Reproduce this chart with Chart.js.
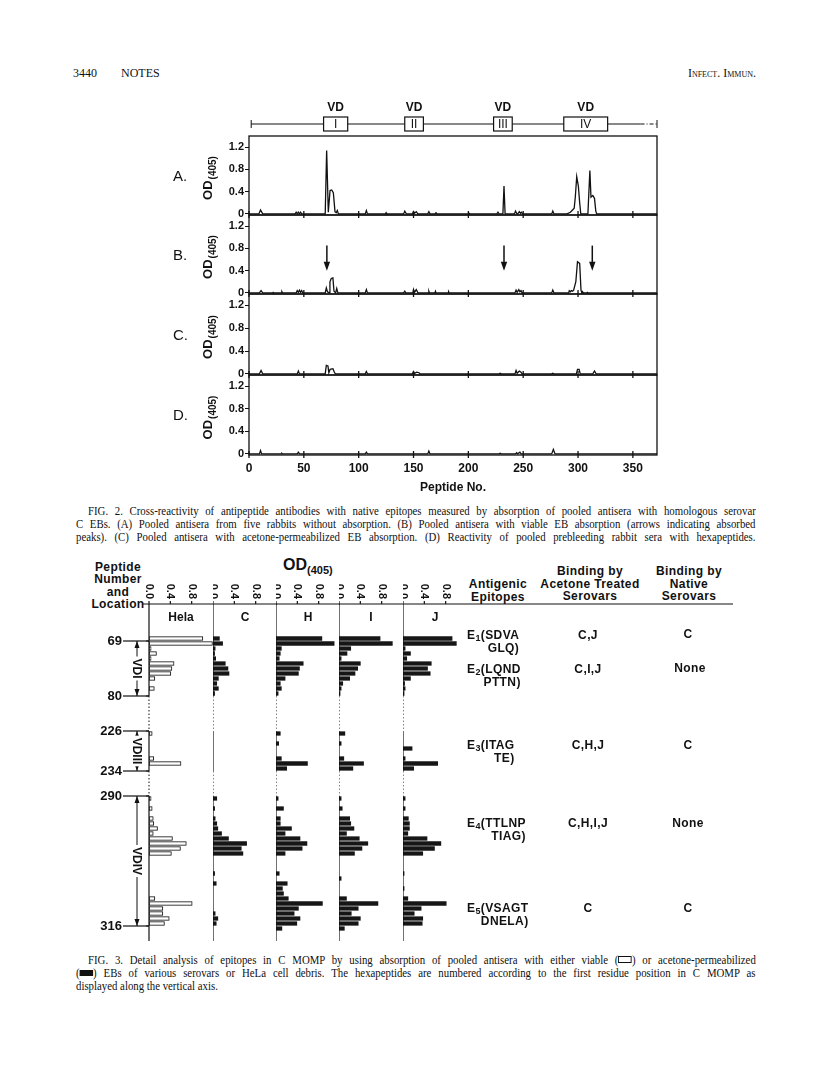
<!DOCTYPE html>
<html>
<head>
<meta charset="utf-8">
<title>Fig. 2 and Fig. 3</title>
<script src="https://cdn.jsdelivr.net/npm/chart.js@4.4.0/dist/chart.umd.min.js"></script>
<style>
  html, body { margin: 0; padding: 0; background: #fff; }
  body { width: 816px; height: 1082px; position: relative; overflow: hidden; color: #111;
         font-family: "Liberation Sans", Arial, sans-serif; }
  canvas { position: absolute; }
  .t { position: absolute; white-space: nowrap; line-height: 14px; }
  .hdr { font-family: "Liberation Serif", serif; font-size: 12px; }
  .cap { position: absolute; font-family: "Liberation Serif", serif; font-size: 12px; line-height: 13px;
         white-space: nowrap; text-align: justify; text-align-last: justify;
         transform: scaleX(0.9); transform-origin: 0 0; }
  .b { font-weight: bold; font-size: 12px; letter-spacing: 0.4px; line-height: 12.7px; }
  .c { text-align: center; width: 160px; }
  .b sub { font-size: 9px; vertical-align: -2px; line-height: 0; }
  .ob { display: inline-block; width: 13px; height: 5px; border: 1px solid #111; vertical-align: 1px; }
  .fb { display: inline-block; width: 15px; height: 6px; background: #111; vertical-align: 1px; }
</style>
</head>
<body>

<div class="t hdr" style="left:73px;top:66px">3440</div>
<div class="t hdr" style="left:121px;top:66px">NOTES</div>
<div class="t hdr" style="right:60px;top:66px;font-variant:small-caps">Infect. Immun.</div>

<canvas id="pA" width="520" height="126" style="left:150px;top:95px"></canvas>
<canvas id="pB" width="520" height="91" style="left:150px;top:209px"></canvas>
<canvas id="pC" width="520" height="93" style="left:150px;top:288px"></canvas>
<canvas id="pD" width="520" height="131" style="left:150px;top:369px"></canvas>

<div class="cap" style="left:88px;top:505px;width:742px">FIG. 2. Cross-reactivity of antipeptide antibodies with native epitopes measured by absorption of pooled antisera with homologous serovar</div>
<div class="cap" style="left:76px;top:518px;width:755px">C EBs. (A) Pooled antisera from five rabbits without absorption. (B) Pooled antisera with viable EB absorption (arrows indicating absorbed</div>
<div class="cap" style="left:76px;top:531px;width:755px">peaks). (C) Pooled antisera with acetone-permeabilized EB absorption. (D) Reactivity of pooled prebleeding rabbit sera with hexapeptides.</div>

<div class="t b c" style="left:38px;top:561px;line-height:12.4px">Peptide<br>Number<br>and<br>Location</div>
<div class="t" style="left:283px;top:558px;font-weight:bold;font-size:16px">OD<span style="font-size:11px;position:relative;top:4px">(405)</span></div>

<div class="t b c" style="left:418px;top:578px">Antigenic<br>Epitopes</div>
<div class="t b c" style="left:510px;top:565px">Binding by<br>Acetone Treated<br>Serovars</div>
<div class="t b c" style="left:609px;top:565px">Binding by<br>Native<br>Serovars</div>

<canvas id="cHela" width="193" height="385" style="left:20px;top:560px"></canvas>
<canvas id="cC" width="64" height="385" style="left:213px;top:560px"></canvas>
<canvas id="cH" width="64" height="385" style="left:276px;top:560px"></canvas>
<canvas id="cI" width="64" height="385" style="left:339px;top:560px"></canvas>
<canvas id="cJ" width="340" height="385" style="left:403px;top:560px"></canvas>

<div class="t b" style="left:467px;top:629px;text-align:right">E<sub>1</sub>(SDVA<br>GLQ)</div>
<div class="t b c" style="left:508px;top:629px">C,J</div>
<div class="t b c" style="left:608px;top:628px">C</div>

<div class="t b" style="left:467px;top:663px;text-align:right">E<sub>2</sub>(LQND<br>PTTN)</div>
<div class="t b c" style="left:508px;top:663px">C,I,J</div>
<div class="t b c" style="left:610px;top:662px">None</div>

<div class="t b" style="left:467px;top:739px;text-align:right">E<sub>3</sub>(ITAG<br>TE)</div>
<div class="t b c" style="left:508px;top:739px">C,H,J</div>
<div class="t b c" style="left:608px;top:739px">C</div>

<div class="t b" style="left:467px;top:817px;text-align:right">E<sub>4</sub>(TTLNP<br>TIAG)</div>
<div class="t b c" style="left:508px;top:817px">C,H,I,J</div>
<div class="t b c" style="left:608px;top:817px">None</div>

<div class="t b" style="left:467px;top:902px;text-align:right">E<sub>5</sub>(VSAGT<br>DNELA)</div>
<div class="t b c" style="left:508px;top:902px">C</div>
<div class="t b c" style="left:608px;top:902px">C</div>

<div class="cap" style="left:88px;top:954px;width:742px">FIG. 3. Detail analysis of epitopes in C MOMP by using absorption of pooled antisera with either viable (<span class="ob"></span>) or acetone-permeabilized</div>
<div class="cap" style="left:76px;top:967px;width:755px">(<span class="fb"></span>) EBs of various serovars or HeLa cell debris. The hexapeptides are numbered according to the first residue position in C MOMP as</div>
<div class="cap" style="left:76px;top:980px;text-align:left;text-align-last:left">displayed along the vertical axis.</div>

<script>
// ---- Fig. 2 : OD(405) profile over the peptide scan ----
const xTicks = [0, 50, 100, 150, 200, 250, 300, 350];
const xMax = 372;
const yTicks = [0, 0.2, 0.4, 0.6, 0.8, 1.0, 1.2];
const yLabels = ['0', '', '0.4', '', '0.8', '', '1.2'];

// [peptide no., OD]
const panelA = [[0,0],[9,0],[10.5,0.07],[12.5,0],[42,0],[43,0.03],[44,0],[45,0.03],[46,0],[47,0.03],[48,0],
  [69.5,0],[70.8,1.14],[72.3,0.03],[73.9,0.42],[75.4,0.43],[76.9,0.38],[78.4,0.04],[79.5,0.02],[80.5,0.06],[81.5,0],
  [106,0],[107,0.06],[108,0],[124.5,0],[125,0.02],[125.5,0],[141,0],[142,0.05],[143.5,0],[149,0],[150,0.04],[151,0.01],
  [152.5,0.04],[154,0],[163,0],[164,0.04],[165,0],[169.5,0],[170.5,0.02],[171.5,0],[200.5,0],[201,0.01],[201.5,0],
  [226,0],[227,0.03],[228,0],[231.5,0],[232.5,0.5],[233.5,0],[242,0],[243,0.05],[244,0.01],[245,0],[246.5,0.04],
  [247.5,0.01],[248.5,0.03],[249.5,0],[276,0],[277,0.05],[278,0],[290,0],[293,0.03],[295,0.07],[296.5,0.1],[297.5,0.3],
  [298.8,0.67],[300.3,0.5],[301.5,0.2],[302.5,0],[309,0],[310.8,0.78],[311.8,0.3],[313.5,0.33],[315,0.28],[316.2,0.05],
  [317,0],[372,0]];
const panelB = [[0,0],[9.5,0],[11,0.04],[12.5,0],[21.5,0],[22,0.01],[22.5,0],[29.5,0],[30,0.02],[30.5,0],[43,0],
  [44,0.04],[45,0.01],[46,0.05],[47,0.01],[48,0.04],[49,0],[69.5,0],[70.5,0.09],[71.5,0.02],[73,0],[73.8,0.2],[75,0.26],
  [76.5,0.27],[77.5,0.03],[79,0],[80,0.08],[81,0],[106,0],[107,0.06],[108,0],[141,0],[142,0.03],[143,0],[149.5,0],
  [150,0.06],[151,0.01],[152.5,0.06],[154,0],[163.5,0],[164,0.03],[164.5,0],[169.5,0],[170,0.03],[170.5,0],[181.5,0],
  [182,0.02],[182.5,0],[242.5,0],[243.5,0.05],[244.5,0.01],[246,0.06],[247,0.02],[248,0.04],[249,0],[276,0],[277,0.05],
  [278,0],[291.5,0],[292,0.04],[293,0.02],[294,0.04],[295,0.03],[296,0.05],[298,0.2],[299.5,0.56],[301.5,0.53],
  [302.7,0.05],[303.5,0],[304,0.02],[304.5,0],[308,0],[308.5,0.01],[309,0],[372,0]];
const panelC = [[0,0],[9.5,0],[11,0.06],[12.5,0],[44,0],[45,0.05],[46,0],[69.5,0],[70.5,0.15],[72,0.14],[72.8,0.02],
  [74,0.08],[76.5,0.09],[78,0.02],[79,0],[106,0],[107,0.04],[108,0],[149,0],[150,0.04],[151,0.01],[153,0.03],[155,0.02],
  [156,0],[228,0],[229,0.01],[230,0],[242.5,0],[243.5,0.06],[244.5,0.01],[246.5,0.05],[248,0.03],[249,0],[276,0],
  [277,0.01],[278,0],[298.5,0],[299.5,0.08],[301,0.08],[302,0],[313.5,0],[315,0.05],[316.5,0],[372,0]];
const panelD = [[0,0],[9.5,0],[10.5,0.06],[11.5,0],[29.5,0],[30,0.01],[30.5,0],[44,0],[45,0.03],[46,0],[106,0],
  [107,0.03],[108,0],[163,0],[164,0.05],[165,0],[228,0],[229,0.01],[230,0],[243,0],[244,0.02],[245,0],[247,0.03],
  [248,0],[276,0],[277.5,0.08],[279,0],[372,0]];

// variable domains above panel A
const vdNames = ['I', 'II', 'III', 'IV'];
const vdFrom = [68, 142, 223, 287];
const vdTo = [90, 159, 240, 327];
const vdLineFrom = 2;
const vdSolidTo = 357;

// absorbed peaks in panel B
const arrowAt = [71, 232.5, 313];
const arrowTop = 0.85;
const arrowTip = 0.4;

// ---- Fig. 3 : hexapeptide detail ----
const rowsVD1 = [68, 69, 70, 71, 72, 73, 74, 75, 76, 77, 78, 79, 80];
const rowsVD3 = [226, 227, 228, 229, 230, 231, 232, 233, 234];
const rowsVD4 = [290, 291, 292, 293, 294, 295, 296, 297, 298, 299, 300, 301, 302, 303, 304, 305, 306, 307, 308, 309,
  310, 311, 312, 313, 314, 315, 316, 317, 318];
const gapRows1 = 6;
const gapRows2 = 4;
const pepMarks = [69, 80, 226, 234, 290, 316];
const vdRowFrom = [69, 226, 290];
const vdRowTo = [80, 234, 316];
const vdRowName = ['VDI', 'VDIII', 'VDIV'];
const odTicks = [0, 0.4, 0.8];
const odMax = 1.2;
const columns = ['Hela', 'C', 'H', 'I', 'J'];

const helaVD1 = [1.01, 1.19, 0.04, 0.14, 0.04, 0.47, 0.43, 0.41, 0.11, 0, 0.1, 0, 0];
const helaVD3 = [0.06, 0, 0, 0, 0, 0.09, 0.6, 0, 0];
const helaVD4 = [0.04, 0, 0.06, 0, 0.08, 0.09, 0.16, 0.08, 0.44, 0.7, 0.59, 0.42, 0, 0, 0, 0, 0, 0, 0, 0,
  0.11, 0.81, 0.26, 0.26, 0.38, 0.29, 0, 0, 0];
const cVD1 = [0.12, 0.18, 0.04, 0.03, 0.05, 0.23, 0.28, 0.3, 0.1, 0.07, 0.1, 0.03, 0];
const cVD3 = [0, 0, 0, 0, 0, 0, 0, 0, 0];
const cVD4 = [0.07, 0, 0.03, 0, 0.04, 0.07, 0.09, 0.16, 0.29, 0.63, 0.53, 0.56, 0, 0, 0, 0.03, 0, 0.06, 0, 0,
  0, 0, 0, 0.04, 0.09, 0.06, 0, 0, 0];
const hVD1 = [0.86, 1.09, 0.1, 0.08, 0.06, 0.51, 0.44, 0.42, 0.17, 0.08, 0.1, 0.04, 0];
const hVD3 = [0.08, 0, 0.05, 0, 0, 0.1, 0.59, 0.2, 0];
const hVD4 = [0.04, 0, 0.14, 0, 0.08, 0.08, 0.29, 0.17, 0.45, 0.58, 0.49, 0.17, 0, 0, 0, 0.06, 0, 0.21, 0.12, 0.14,
  0.23, 0.87, 0.42, 0.34, 0.45, 0.39, 0.11, 0, 0];
const iVD1 = [0.77, 1.0, 0.22, 0.15, 0.04, 0.4, 0.35, 0.3, 0.2, 0.07, 0.04, 0.02, 0];
const iVD3 = [0.11, 0, 0.04, 0, 0, 0.09, 0.46, 0.26, 0];
const iVD4 = [0.04, 0, 0.06, 0, 0.2, 0.22, 0.28, 0.14, 0.38, 0.54, 0.43, 0.29, 0, 0, 0, 0, 0.04, 0, 0, 0,
  0.14, 0.73, 0.36, 0.23, 0.4, 0.36, 0.1, 0, 0];
const jVD1 = [0.92, 1.0, 0.04, 0.14, 0.07, 0.53, 0.46, 0.51, 0.14, 0.03, 0.04, 0.02, 0];
const jVD3 = [0, 0, 0, 0.17, 0, 0.04, 0.65, 0.2, 0];
const jVD4 = [0.04, 0, 0.04, 0, 0.1, 0.12, 0.12, 0.09, 0.45, 0.71, 0.59, 0.37, 0, 0, 0, 0.02, 0, 0, 0.02, 0,
  0.09, 0.81, 0.34, 0.21, 0.37, 0.36, 0, 0, 0];

const INK = '#111';
const SANS = '"Liberation Sans", Arial, sans-serif';

function seg(ctx, x0, y0, x1, y1) {
  ctx.beginPath();
  ctx.moveTo(x0, y0);
  ctx.lineTo(x1, y1);
  ctx.stroke();
}

function drawDomains(ctx, a, x) {
  const ly = a.top - 12;
  const x0 = x.getPixelForValue(vdLineFrom);
  const xs = x.getPixelForValue(vdSolidTo);
  ctx.lineWidth = 1;
  seg(ctx, x0, ly, xs, ly);
  seg(ctx, x0, ly - 4, x0, ly + 4);
  ctx.setLineDash([4, 2, 1, 2]);
  seg(ctx, xs, ly, a.right, ly);
  ctx.setLineDash([]);
  seg(ctx, a.right, ly - 4, a.right, ly + 4);
  ctx.textAlign = 'center';
  ctx.textBaseline = 'middle';
  vdNames.forEach((n, i) => {
    const l = x.getPixelForValue(vdFrom[i]);
    const r = x.getPixelForValue(vdTo[i]);
    ctx.fillStyle = '#fff';
    ctx.fillRect(l, ly - 7, r - l, 14);
    ctx.lineWidth = 1.2;
    ctx.strokeRect(l, ly - 7, r - l, 14);
    ctx.fillStyle = INK;
    ctx.font = '12px ' + SANS;
    ctx.fillText(n, (l + r) / 2, ly + 1);
    ctx.font = 'bold 12px ' + SANS;
    ctx.fillText('VD', (l + r) / 2, a.top - 28);
  });
}

const fig2Frame = {
  id: 'fig2Frame',
  afterDraw(chart) {
    const o = chart.options.plugins.fig2Frame;
    const { ctx, chartArea: a, scales: { x, y } } = chart;
    const mid = (a.top + a.bottom) / 2;
    ctx.save();
    ctx.strokeStyle = INK;
    ctx.fillStyle = INK;
    ctx.lineWidth = 1.3;
    ctx.strokeRect(a.left, a.top, a.right - a.left, a.bottom - a.top);
    xTicks.forEach(v => {
      const px = x.getPixelForValue(v);
      seg(ctx, px, a.bottom - 4, px, a.bottom + 3);
    });

    ctx.font = '15px ' + SANS;
    ctx.textAlign = 'left';
    ctx.textBaseline = 'middle';
    ctx.fillText(o.letter, a.left - 76, mid + 1);

    // OD(405) written bottom-to-top
    ctx.save();
    ctx.translate(a.left - 41, mid + 3);
    ctx.rotate(-Math.PI / 2);
    ctx.textBaseline = 'alphabetic';
    ctx.font = 'bold 13px ' + SANS;
    const w1 = ctx.measureText('OD').width;
    ctx.font = 'bold 10px ' + SANS;
    const w2 = ctx.measureText('(405)').width;
    const start = -(w1 + w2) / 2;
    ctx.font = 'bold 13px ' + SANS;
    ctx.fillText('OD', start, 4);
    ctx.font = 'bold 10px ' + SANS;
    ctx.fillText('(405)', start + w1 + 1, 8);
    ctx.restore();

    if (o.vd) drawDomains(ctx, a, x);

    if (o.arrows) {
      ctx.lineWidth = 1.5;
      arrowAt.forEach(p => {
        const px = x.getPixelForValue(p);
        const yt = y.getPixelForValue(arrowTop);
        const yb = y.getPixelForValue(arrowTip);
        seg(ctx, px, yt, px, yb - 6);
        ctx.beginPath();
        ctx.moveTo(px - 3.2, yb - 9);
        ctx.lineTo(px + 3.2, yb - 9);
        ctx.lineTo(px, yb);
        ctx.closePath();
        ctx.fill();
      });
    }
    ctx.restore();
  }
};

function panelChart(id, pts, opts) {
  const last = !!opts.last;
  const axisFont = { family: SANS, size: 12, weight: 'bold' };
  const xScale = {
    type: 'linear',
    min: 0,
    max: xMax,
    display: last,
    afterBuildTicks: s => { s.ticks = xTicks.map(v => ({ value: v })); },
    grid: { display: false, drawTicks: true, tickLength: 4 },
    border: { display: false },
    ticks: { font: axisFont, color: INK, padding: 2, maxRotation: 0 },
    title: { display: true, text: 'Peptide No.', font: axisFont, color: INK, padding: { top: 4, bottom: 5 } }
  };
  if (last) xScale.afterFit = s => { s.height = 45; s.paddingLeft = 0; s.paddingRight = 0; };
  return new Chart(document.getElementById(id), {
    type: 'line',
    data: {
      datasets: [{
        data: pts.map(p => ({ x: p[0], y: p[1] })),
        borderColor: INK,
        borderWidth: 1.3,
        pointRadius: 0,
        tension: 0,
        fill: false
      }]
    },
    options: {
      responsive: false,
      animation: false,
      devicePixelRatio: 1,
      layout: { padding: { top: opts.padTop, bottom: last ? 0 : 6, left: 0, right: 13 } },
      scales: {
        x: xScale,
        y: {
          min: -0.02,
          max: 1.4,
          afterBuildTicks: s => { s.ticks = yTicks.map(v => ({ value: v })); },
          afterFit: s => { s.width = 99; s.paddingTop = 0; s.paddingBottom = 0; },
          grid: { drawOnChartArea: false, drawTicks: true, tickLength: 4, color: INK, lineWidth: 1 },
          border: { display: false },
          ticks: { callback: (v, i) => yLabels[i], font: { family: SANS, size: 11, weight: 'bold' }, color: INK, padding: 1 }
        }
      },
      plugins: { legend: { display: false }, tooltip: { enabled: false }, fig2Frame: opts }
    },
    plugins: [fig2Frame]
  });
}

panelChart('pA', panelA, { letter: 'A.', padTop: 41, vd: true });
panelChart('pB', panelB, { letter: 'B.', padTop: 6, arrows: true });
panelChart('pC', panelC, { letter: 'C.', padTop: 6 });
panelChart('pD', panelD, { letter: 'D.', padTop: 6, last: true });

// ---- Fig. 3 columns ----
const blank = n => new Array(n).fill(null);
const rowLabels = [...rowsVD1, ...blank(gapRows1).map(() => ''), ...rowsVD3,
  ...blank(gapRows2).map(() => ''), ...rowsVD4].map(String);
const colData = (v1, v3, v4) => [...v1, ...blank(gapRows1), ...v3, ...blank(gapRows2), ...v4].map(v => v || null);

const fig3Col = {
  id: 'fig3Col',
  afterDraw(chart) {
    const o = chart.options.plugins.fig3Col;
    const { ctx, chartArea: a, scales: { x, y } } = chart;
    const band = y.getPixelForValue(1) - y.getPixelForValue(0);
    const top = p => y.getPixelForValue(rowLabels.indexOf(String(p))) - band / 2;
    const headY = a.top - 32;
    ctx.save();
    ctx.strokeStyle = INK;
    ctx.fillStyle = INK;
    ctx.lineWidth = 1.2;

    seg(ctx, a.left - o.ruleLeft, headY, a.right + o.ruleRight, headY);
    ctx.font = 'bold 11px ' + SANS;
    odTicks.forEach(v => {
      const px = x.getPixelForValue(v);
      seg(ctx, px, headY - 3, px, headY);
      ctx.save();
      ctx.translate(px, headY - 5);
      ctx.rotate(Math.PI / 2);
      ctx.textAlign = 'right';
      ctx.textBaseline = 'middle';
      ctx.fillText(v.toFixed(1), 0, 0);
      ctx.restore();
    });

    ctx.font = 'bold 12px ' + SANS;
    ctx.textAlign = 'center';
    ctx.textBaseline = 'middle';
    ctx.fillText(o.title, (a.left + a.right) / 2, a.top - 18);

    // value axis: solid over the scanned stretches, dotted across the gaps
    seg(ctx, a.left, headY, a.left, top(80));
    seg(ctx, a.left, top(226), a.left, top(234));
    seg(ctx, a.left, top(290), a.left, a.bottom);
    ctx.lineWidth = 1;
    ctx.setLineDash([1.5, 2]);
    seg(ctx, a.left, top(80), a.left, top(226));
    seg(ctx, a.left, top(234), a.left, top(290));
    ctx.setLineDash([]);
    pepMarks.forEach(p => seg(ctx, a.left - 3, top(p), a.left, top(p)));

    if (o.left) {
      ctx.lineWidth = 1.2;
      ctx.font = 'bold 13px ' + SANS;
      ctx.textAlign = 'right';
      pepMarks.forEach(p => {
        const ty = top(p);
        ctx.fillText(String(p), a.left - 27, ty);
        seg(ctx, a.left - 26, ty, a.left, ty);
      });
      const bx = a.left - 12;
      vdRowName.forEach((n, i) => {
        const y0 = top(vdRowFrom[i]);
        const y1 = top(vdRowTo[i]);
        ctx.lineWidth = 1;
        seg(ctx, bx, y0, bx, y1);
        ctx.beginPath();
        ctx.moveTo(bx, y0); ctx.lineTo(bx - 2.5, y0 + 7); ctx.lineTo(bx + 2.5, y0 + 7); ctx.closePath(); ctx.fill();
        ctx.beginPath();
        ctx.moveTo(bx, y1); ctx.lineTo(bx - 2.5, y1 - 7); ctx.lineTo(bx + 2.5, y1 - 7); ctx.closePath(); ctx.fill();
        ctx.save();
        ctx.translate(bx, (y0 + y1) / 2);
        ctx.rotate(Math.PI / 2);
        ctx.font = 'bold 12px ' + SANS;
        const w = ctx.measureText(n).width;
        ctx.fillStyle = '#fff';
        ctx.fillRect(-w / 2 - 2, -6, w + 4, 12);
        ctx.fillStyle = INK;
        ctx.textAlign = 'center';
        ctx.textBaseline = 'middle';
        ctx.fillText(n, 0, 1);
        ctx.restore();
      });
    }
    ctx.restore();
  }
};

function colChart(id, k, values, pad, extra) {
  const open = k === 0;
  return new Chart(document.getElementById(id), {
    type: 'bar',
    data: {
      labels: rowLabels,
      datasets: [{
        data: values,
        backgroundColor: open ? '#fff' : '#161616',
        borderColor: INK,
        borderWidth: open ? 1 : 0,
        borderSkipped: false,
        barThickness: 3.6
      }]
    },
    options: {
      indexAxis: 'y',
      responsive: false,
      animation: false,
      devicePixelRatio: 1,
      layout: { padding: pad },
      scales: {
        x: { display: false, min: 0, max: odMax },
        y: { display: false }
      },
      plugins: {
        legend: { display: false },
        tooltip: { enabled: false },
        fig3Col: Object.assign({ title: columns[k], ruleLeft: 0, ruleRight: 0, left: false }, extra)
      }
    },
    plugins: [fig3Col]
  });
}

const colPad = { top: 76, bottom: 4, left: 0, right: 0 };
colChart('cHela', 0, colData(helaVD1, helaVD3, helaVD4), { top: 76, bottom: 4, left: 129, right: 0 }, { ruleLeft: 6, left: true });
colChart('cC', 1, colData(cVD1, cVD3, cVD4), colPad, {});
colChart('cH', 2, colData(hVD1, hVD3, hVD4), colPad, {});
colChart('cI', 3, colData(iVD1, iVD3, iVD4), colPad, {});
colChart('cJ', 4, colData(jVD1, jVD3, jVD4), { top: 76, bottom: 4, left: 0, right: 276 }, { ruleRight: 266 });
</script>
</body>
</html>
